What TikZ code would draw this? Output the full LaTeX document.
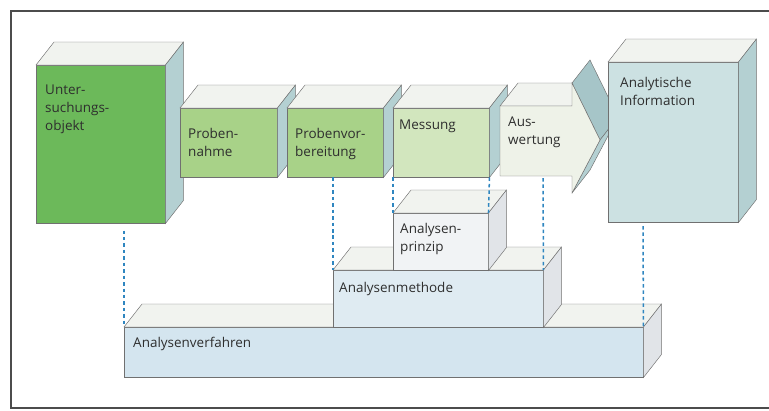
\documentclass[tikz,border=0pt]{standalone}
\usepackage{fontspec}
\setmainfont{Open Sans}

\definecolor{objgreen}{HTML}{6CB95A}
\definecolor{midgreen}{HTML}{A8D288}
\definecolor{palegreen}{HTML}{D2E6BE}
\definecolor{paleface}{HTML}{EEF2E8}
\definecolor{topface}{HTML}{F1F3EF}
\definecolor{bluegray}{HTML}{B4D0D2}
\definecolor{darkwing}{HTML}{A6C5C8}
\definecolor{infoblue}{HTML}{CCE1E2}
\definecolor{baseblue}{HTML}{D4E5EF}
\definecolor{methblue}{HTML}{DFEBF2}
\definecolor{prinzface}{HTML}{F1F3F5}
\definecolor{greyside}{HTML}{E1E4E8}
\definecolor{guideblue}{HTML}{2F86C0}
\definecolor{edgegrey}{HTML}{707070}
\definecolor{txtgrey}{HTML}{2E2E2E}

\begin{document}
\begin{tikzpicture}[x=0.03cm, y=-0.03cm,
    face/.style 2 args={draw=edgegrey, line width=0.4pt, anchor=north west, inner sep=0,
      minimum width=#1*0.03cm, minimum height=#2*0.03cm},
    back/.style={shift={(18,-23)}},
    topf/.style={draw=edgegrey, line width=0.4pt, fill=topface},
    sidef/.style={draw=edgegrey, line width=0.4pt, fill=bluegray},
    greyf/.style={draw=edgegrey, line width=0.4pt, fill=greyside},
    lbl/.style={anchor=north west, inner sep=0, align=left, text=txtgrey,
      font=\fontsize{11.5}{15}\selectfont},
    guide/.style={draw=guideblue, line width=1.3pt, dash pattern=on 3pt off 2.5pt},
    frame/.style={draw=black!70, line width=1pt}]

  \useasboundingbox (0,0) rectangle (769,410);
  \draw[frame] (769,11) -| (11,408) -- (769,408);

  % upper row: object, steps, information
  \node[face={129}{158}, fill=objgreen] (obj) at (36,65) {};
  \draw[topf] (obj.north west) -- ([back]obj.north west) -- ([back]obj.north east) -- (obj.north east) -- cycle;
  \draw[sidef] (obj.north east) -- ([back]obj.north east) -- ([back]obj.south east) -- (obj.south east) -- cycle;
  \node[lbl, shift={(9,20)}] (obj-t) at (obj.north west) {Unter-\\suchungs-\\objekt};

  \node[face={97}{69}, fill=midgreen] (nahme) at (180,108) {};
  \draw[topf] (nahme.north west) -- ([back]nahme.north west) -- ([back]nahme.north east) -- (nahme.north east) -- cycle;
  \draw[sidef] (nahme.north east) -- ([back]nahme.north east) -- ([back]nahme.south east) -- (nahme.south east) -- cycle;
  \node[lbl, shift={(8,20)}] (nahme-t) at (nahme.north west) {Proben-\\nahme};

  \node[face={96}{69}, fill=midgreen] (vorb) at (287,108) {};
  \draw[topf] (vorb.north west) -- ([back]vorb.north west) -- ([back]vorb.north east) -- (vorb.north east) -- cycle;
  \draw[sidef] (vorb.north east) -- ([back]vorb.north east) -- ([back]vorb.south east) -- (vorb.south east) -- cycle;
  \node[lbl, shift={(8,20)}] (vorb-t) at (vorb.north west) {Probenvor-\\bereitung};

  \node[face={96}{69}, fill=palegreen] (mess) at (393,108) {};
  \draw[topf] (mess.north west) -- ([back]mess.north west) -- ([back]mess.north east) -- (mess.north east) -- cycle;
  \draw[sidef] (mess.north east) -- ([back]mess.north east) -- ([back]mess.south east) -- (mess.south east) -- cycle;
  \node[lbl, shift={(6,12)}] (mess-t) at (mess.north west) {Messung};

  % arrow
  \coordinate (a1) at (500,106);
  \coordinate (a2) at (572,106);
  \coordinate (a3) at (572,83);
  \coordinate (tip) at (600,140);
  \coordinate (a5) at (572,193);
  \coordinate (a6) at (572,176);
  \coordinate (a7) at (500,176);
  \draw[topf] (a1) -- ([back]a1) -- ([back]a2) -- (a2) -- cycle;
  \draw[sidef, fill=darkwing] (a3) -- ([back]a3) -- ([back]tip) -- (tip) -- cycle;
  \draw[sidef] (tip) -- ([back]tip) -- ([back]a5) -- (a5) -- cycle;
  \draw[topf, fill=paleface] (a1) -- (a2) -- (a3) -- (tip) -- (a5) -- (a6) -- (a7) -- cycle;
  \node[lbl, shift={(8,11)}] (ausw-t) at (a1) {Aus-\\wertung};

  \node[face={130}{160}, fill=infoblue] (info) at (608,62) {};
  \draw[topf] (info.north west) -- ([back]info.north west) -- ([back]info.north east) -- (info.north east) -- cycle;
  \draw[sidef] (info.north east) -- ([back]info.north east) -- ([back]info.south east) -- (info.south east) -- cycle;
  \node[lbl, shift={(12,15)}] (info-t) at (info.north west) {Analytische\\Information};

  % lower stack
  \node[face={519}{50}, fill=baseblue] (verf) at (124,327) {};
  \draw[topf] (verf.north west) -- ([back]verf.north west) -- ([back]verf.north east) -- (verf.north east) -- cycle;
  \draw[greyf] (verf.north east) -- ([back]verf.north east) -- ([back]verf.south east) -- (verf.south east) -- cycle;
  \node[lbl, shift={(9,10)}] (verf-t) at (verf.north west) {Analysenverfahren};

  \node[face={210}{57}, fill=methblue] (meth) at (333,270) {};
  \draw[topf] (meth.north west) -- ([back]meth.north west) -- ([back]meth.north east) -- (meth.north east) -- cycle;
  \draw[greyf] (meth.north east) -- ([back]meth.north east) -- ([back]meth.south east) -- (meth.south east) -- cycle;
  \node[lbl, shift={(6,12)}] (meth-t) at (meth.north west) {Analysenmethode};

  \node[face={95}{57}, fill=prinzface] (prinz) at (393,213) {};
  \draw[topf] (prinz.north west) -- ([back]prinz.north west) -- ([back]prinz.north east) -- (prinz.north east) -- cycle;
  \draw[greyf] (prinz.north east) -- ([back]prinz.north east) -- ([back]prinz.south east) -- (prinz.south east) -- cycle;
  \node[lbl, shift={(7,10)}] (prinz-t) at (prinz.north west) {Analysen-\\prinzip};

  % dotted guides
  \coordinate (g1) at (543,178);
  \coordinate (g2) at (643,226);
  \draw[guide, shorten <=6pt] (obj.south -| verf.north west) -- (verf.north west);
  \draw[guide] (vorb.south -| meth.north west) -- (meth.north west);
  \draw[guide] (mess.south west) -- (prinz.north west);
  \draw[guide] (mess.south east) -- (prinz.north east);
  \draw[guide] (g1) -- (meth.north east);
  \draw[guide] (g2) -- (verf.north east);

\end{tikzpicture}
\end{document}
